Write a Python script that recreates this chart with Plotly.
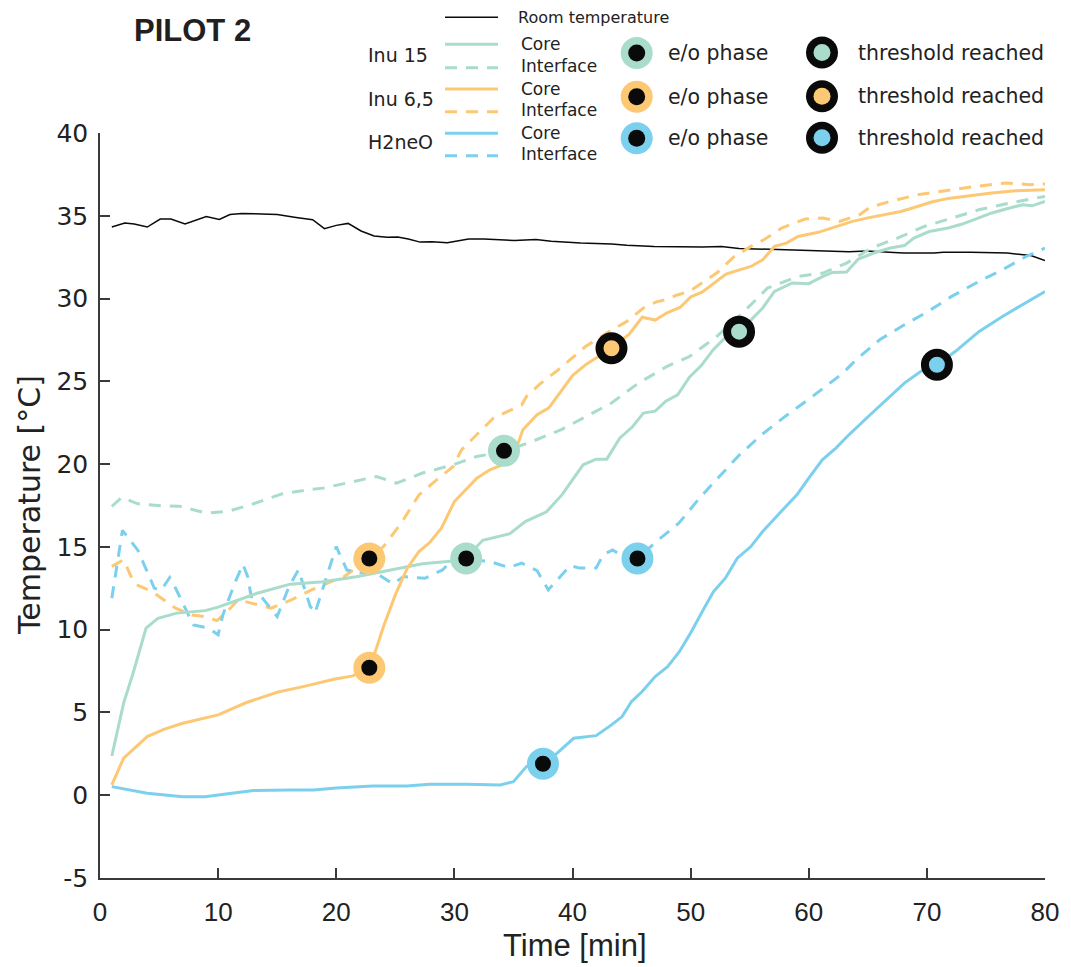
import plotly.graph_objects as go

# the page shows the figure with an 8 px body offset; the figure is sized so that the
# plot area lands on the reference's pixels
OFF = 8
W, H = 1071 - OFF, 967 - OFF
ML, MR, MT, MB = 100 - OFF, 26, 133 - OFF, 89

TEAL = "#A9DCCB"
ORANGE = "#FDC874"
BLUE = "#7BD0EE"
INK = "#0A0A0A"
AX = "#3A3A3A"

# ---------------- data (time in min, temperature in °C) ----------------
room_t = [1, 2.1, 2.9, 4, 5.1, 6, 7.2, 9, 10.1, 11, 12, 15, 16.6, 18, 19, 20, 21, 22.1, 23.2, 24.3,
          25.2, 26.1, 27.1, 28.1, 29.4, 30.4, 31.2, 32.5, 35.1, 36.9, 38.2, 40.7, 43.3, 44.6, 46.9,
          51, 52.6, 54.1, 57.2, 60.3, 63.4, 64.9, 68, 70.6, 71.4, 73.7, 76.8, 78.8, 80]
room_v = [34.32, 34.56, 34.5, 34.32, 34.8, 34.8, 34.5, 34.96, 34.78, 35.08, 35.14, 35.08, 34.9, 34.76,
          34.22, 34.42, 34.54, 34.08, 33.78, 33.7, 33.72, 33.6, 33.41, 33.43, 33.37, 33.5, 33.6, 33.6,
          33.5, 33.56, 33.46, 33.36, 33.3, 33.22, 33.15, 33.12, 33.14, 33.03, 32.97, 32.89, 32.83,
          32.87, 32.75, 32.75, 32.8, 32.8, 32.75, 32.6, 32.3]

inu15_core_t = [1, 2, 2.8, 3.9, 4.9, 6.5, 8.9, 10, 11.6, 13.3, 16.1, 18.9, 21.7, 24.5, 27.3, 29.9, 31,
                32.4, 34.7, 36, 37.8, 39.1, 40.9, 42, 42.9, 44, 45.1, 46, 47, 47.9, 48.9, 49.9, 50.9,
                51.9, 53, 54.1, 55.1, 56.1, 57.1, 58.6, 60, 61.2, 62, 63.2, 64.2, 65.5, 66.9, 68.1,
                68.9, 70.2, 71.8, 73, 74.4, 75.5, 77, 78.1, 78.9, 80]
inu15_core_v = [2.37, 5.56, 7.37, 10.09, 10.69, 11.0, 11.15, 11.36, 11.76, 12.2, 12.75, 12.9, 13.2,
                13.57, 13.98, 14.15, 14.35, 15.4, 15.8, 16.53, 17.12, 18.14, 19.96, 20.3, 20.3, 21.57,
                22.27, 23.08, 23.2, 23.8, 24.19, 25.25, 25.95, 26.9, 27.7, 28.15, 28.7, 29.43, 30.43,
                30.94, 30.9, 31.34, 31.58, 31.6, 32.39, 32.75, 33.05, 33.2, 33.65, 34.05, 34.26, 34.5,
                34.9, 35.17, 35.47, 35.67, 35.6, 35.87]

inu15_intf_t = [1, 1.85, 3.2, 5.2, 6.7, 9, 10.9, 12.8, 15.4, 17.6, 18.9, 21.4, 23.4, 25.1, 27.3, 29.9,
                31.9, 34.2, 36.7, 39.1, 41.5, 43.3, 45.6, 48, 49.9, 52.2, 54.5, 56.5, 59.1, 61.2, 63.2,
                65.3, 67.5, 69.8, 72.1, 74.4, 77, 80]
inu15_intf_v = [17.44, 18.0, 17.6, 17.48, 17.46, 17.04, 17.16, 17.56, 18.2, 18.45, 18.55, 18.95, 19.25,
                18.85, 19.46, 19.96, 20.46, 20.76, 21.4, 22.1, 23.0, 23.69, 24.9, 25.9, 26.5, 27.7,
                29.2, 30.63, 31.34, 31.54, 32.14, 33.05, 33.65, 34.36, 34.86, 35.36, 35.77, 36.17]

inu65_core_t = [1, 2, 4, 5.4, 7, 8.9, 10, 12.4, 15, 17.2, 19.8, 21.4, 22.8, 23.4, 24, 25, 26, 27, 27.9,
                28.9, 30, 31.9, 33, 34.1, 35, 35.8, 37, 38, 38.9, 40, 41.2, 43.3, 44.8, 45.9, 47, 48,
                49.1, 50, 51, 52, 53, 54, 55.1, 56.1, 57.1, 58.1, 59.1, 60.8, 62.3, 63.7, 64.9, 66.3,
                67.8, 69.2, 70.4, 71.8, 73.5, 75.5, 77.5, 80]
inu65_core_v = [0.62, 2.24, 3.54, 3.98, 4.35, 4.65, 4.85, 5.6, 6.22, 6.56, 7.0, 7.21, 7.67, 8.88, 10.19,
                12.1, 13.7, 14.72, 15.26, 16.13, 17.74, 19.15, 19.66, 19.96, 20.46, 22.07, 22.98, 23.4,
                24.29, 25.35, 26.05, 27.0, 27.85, 28.87, 28.7, 29.14, 29.46, 30.1, 30.4, 30.94, 31.48,
                31.7, 31.94, 32.34, 33.15, 33.35, 33.75, 34.0, 34.36, 34.66, 34.86, 35.06, 35.26,
                35.56, 35.83, 36.05, 36.21, 36.37, 36.51, 36.57]

inu65_intf_t = [1, 2, 2.7, 3.1, 4.4, 5.4, 6.4, 7.8, 8.9, 9.9, 10.9, 11.7, 12.8, 14.5, 16.2, 17.9, 19.9,
                20.6, 22.8, 24, 25.5, 27, 28.5, 29.9, 30.6, 31.9, 33.3, 34.4, 35.7, 36.1, 37.25, 38.8,
                39.8, 41.1, 42.9, 44.6, 46, 47.1, 48.1, 48.8, 49.9, 52.2, 53.7, 55.1, 56.2, 57.7, 59.7,
                61.2, 62.6, 64.3, 65.2, 66.9, 69.2, 71.8, 74.1, 76.7, 78.7, 80]
inu65_intf_v = [13.82, 14.22, 13.11, 12.71, 12.3, 11.8, 11.3, 10.89, 10.79, 10.55, 11.2, 11.8, 11.6,
                11.3, 11.8, 12.4, 13.0, 13.17, 14.32, 15.02, 16.43, 18.14, 19.05, 19.86, 20.86, 21.77,
                22.78, 23.14, 23.58, 24.08, 24.84, 25.7, 26.3, 27.1, 27.92, 28.62, 29.43, 29.8, 29.97,
                30.2, 30.43, 31.54, 32.54, 33.15, 33.55, 34.26, 34.8, 34.86, 34.66, 35.06, 35.52,
                35.87, 36.27, 36.53, 36.77, 36.98, 36.88, 36.92]

h2neo_core_t = [1, 4, 7, 8.9, 10, 13, 16.1, 18.1, 20, 23.1, 26, 27.9, 31, 33.9, 35, 36.1, 37.5, 38.7,
                40.1, 41.5, 42, 43.3, 44.2, 45, 45.9, 47, 48.05, 49.06, 50.07, 51.07, 51.94, 52.94,
                53.95, 55.1, 56.1, 57.8, 59, 60, 61.15, 62.3, 63.4, 65.2, 66.6, 68.1, 69.5, 70.85,
                72.4, 74.4, 76.4, 78.1, 80]
h2neo_core_v = [0.52, 0.12, -0.09, -0.09, 0.02, 0.28, 0.32, 0.32, 0.44, 0.56, 0.56, 0.66, 0.66, 0.62,
                0.82, 1.73, 1.87, 2.54, 3.44, 3.54, 3.6, 4.25, 4.75, 5.66, 6.26, 7.17, 7.77, 8.68, 9.89,
                11.2, 12.3, 13.11, 14.32, 15.02, 15.93, 17.24, 18.14, 19.15, 20.26, 20.97, 21.77,
                22.98, 23.9, 24.89, 25.6, 26.0, 26.8, 28.0, 28.92, 29.63, 30.43]

h2neo_intf_t = [1, 1.9, 3.2, 4.6, 5.2, 5.9, 6.4, 7.9, 9.2, 10, 10.4, 11.4, 12.1, 12.5, 12.8, 13.7, 15,
                16, 16.8, 17.8, 18.2, 19.1, 20, 20.9, 22.4, 23.4, 24.8, 25.7, 27.5, 29, 29.9, 33, 34.6,
                35.7, 37, 37.95, 39.8, 40.6, 42, 42.6, 43.4, 44.2, 45.5, 47.2, 49, 50.8, 52.2, 54, 56,
                58, 60.3, 62, 62.9, 64, 66, 68.1, 70.1, 72.1, 74.4, 76.4, 78.4, 80]
h2neo_intf_v = [11.9, 16.0, 14.8, 12.5, 12.4, 13.15, 12.5, 10.29, 10.09, 9.69, 10.89, 12.8, 13.95,
                13.21, 12.0, 11.95, 10.79, 12.6, 13.61, 11.4, 11.0, 13.0, 15.02, 13.6, 13.41, 13.41,
                12.76, 13.21, 13.1, 13.61, 14.3, 14.12, 13.75, 14.02, 13.56, 12.4, 13.87, 13.72,
                13.72, 14.52, 14.82, 14.45, 14.32, 15.38, 16.43, 17.99, 19.05, 20.46, 21.77, 22.88,
                24.08, 24.99, 25.5, 26.3, 27.51, 28.42, 29.22, 30.13, 31.03, 31.74, 32.54, 33.05]

# e/o phase events and threshold-reached events
eo_t = [31.0, 34.2, 22.8, 22.8, 37.5, 45.5]
eo_v = [14.3, 20.8, 7.7, 14.3, 1.9, 14.3]
eo_series = ["Inu 15", "Inu 15", "Inu 6,5", "Inu 6,5", "H2neO", "H2neO"]
th_t = [54.1, 43.3, 70.85]
th_v = [28.0, 27.0, 26.0]
th_series = ["Inu 15", "Inu 6,5", "H2neO"]

groups = ["Inu 15", "Inu 6,5", "H2neO"]
colors = {"Inu 15": TEAL, "Inu 6,5": ORANGE, "H2neO": BLUE}

x_ticks = [0, 10, 20, 30, 40, 50, 60, 70, 80]
y_ticks = [-5, 0, 5, 10, 15, 20, 25, 30, 35, 40]
y_tick_labels = ["-5", "0", "5", "10", "15", "20", "25", "30", "35", "40"]

# ---------------- figure ----------------
fig = go.Figure()
DASH = "12px,9px"


def add_line(t, v, color, dash="solid", width=3.0):
    fig.add_trace(go.Scatter(x=t, y=v, mode="lines", showlegend=False, hoverinfo="skip",
                             line=dict(color=color, width=width, dash=dash)))


add_line(room_t, room_v, INK, width=1.5)
add_line(inu15_intf_t, inu15_intf_v, TEAL, DASH)
add_line(inu65_intf_t, inu65_intf_v, ORANGE, DASH)
add_line(h2neo_intf_t, h2neo_intf_v, BLUE, DASH)
add_line(inu15_core_t, inu15_core_v, TEAL)
add_line(inu65_core_t, inu65_core_v, ORANGE)
add_line(h2neo_core_t, h2neo_core_v, BLUE)

fig.add_trace(go.Scatter(x=eo_t, y=eo_v, mode="markers", showlegend=False, hoverinfo="skip",
                         marker=dict(size=24, color=INK,
                                     line=dict(color=[colors[s] for s in eo_series], width=8))))
fig.add_trace(go.Scatter(x=th_t, y=th_v, mode="markers", showlegend=False, hoverinfo="skip",
                         marker=dict(size=24, color=[colors[s] for s in th_series],
                                     line=dict(color=INK, width=8))))

# ---------------- legend / labels placed by screen pixel ----------------
PW, PH = W - ML - MR, H - MT - MB


def xp(px):
    return (px - OFF - ML) / PW


def yp(py):
    return (H - MB - (py - OFF)) / PH


shapes, annos = [], []


def hline(x0, x1, y, color, width, dash="solid"):
    shapes.append(dict(type="line", xref="paper", yref="paper", x0=xp(x0), x1=xp(x1),
                       y0=yp(y), y1=yp(y), line=dict(color=color, width=width, dash=dash)))


def disc(x, y, r, color):
    shapes.append(dict(type="circle", xref="paper", yref="paper", xsizemode="pixel",
                       ysizemode="pixel", xanchor=xp(x), yanchor=yp(y), x0=-r, x1=r, y0=-r, y1=r,
                       fillcolor=color, line=dict(width=0)))


def text(x, y, s, size, family="DejaVu Sans", xanchor="left", color="#222", angle=0):
    annos.append(dict(x=xp(x), y=yp(y), xref="paper", yref="paper", text=s, showarrow=False,
                      xanchor=xanchor, yanchor="middle", textangle=angle,
                      font=dict(family=family, size=size, color=color)))


hline(445, 498, 17.3, INK, 1.5)
text(516, 18, "Room temperature", 16)

rows = [(44.3, 67.7, 54.5, 53.0), (89.0, 111.7, 99.0, 96.7), (133.3, 155.7, 141.7, 138.3)]
for g, (yc, yi, yl, ym) in zip(groups, rows):
    c = colors[g]
    hline(445, 498, yc, c, 3)
    hline(445, 498, yi, c, 3, DASH)
    text(366, yl, g, 19)
    text(519, yc, "Core", 17)
    text(519, yi - 2, "Interface", 17)
    disc(636.7, ym, 16, c)
    disc(636.7, ym, 8.5, INK)
    text(666, ym, "e/o phase", 20.5)
    disc(822, ym - 0.5, 16, INK)
    disc(822, ym - 0.5, 8.5, c)
    text(856, ym - 0.5, "threshold reached", 20.5)

text(192.5, 30, "<b>PILOT 2</b>", 31, family="Liberation Sans", xanchor="center", color="#231F20")
text(29, 505, "Temperature [°C]", 30, xanchor="center", angle=-90)
text(575, 946, "Time [min]", 31, family="Liberation Sans", xanchor="center")

fig.update_layout(
    width=W, height=H, margin=dict(l=ML, r=MR, t=MT, b=MB, pad=0),
    paper_bgcolor="white", plot_bgcolor="white", showlegend=False,
    shapes=shapes, annotations=annos,
    xaxis=dict(range=[0, 80], tickvals=x_ticks, ticks="inside", ticklen=10, tickwidth=1.5,
               tickcolor=AX, showline=True, linecolor=AX, linewidth=1.5, showgrid=False,
               zeroline=False, ticklabelstandoff=10,
               tickfont=dict(family="Liberation Sans", size=26, color="#222")),
    yaxis=dict(range=[-5, 40], tickvals=y_ticks, ticktext=y_tick_labels, ticks="inside",
               ticklen=10, tickwidth=1.5, tickcolor=AX, showline=True, linecolor=AX,
               linewidth=1.5, showgrid=False, zeroline=False, ticklabelstandoff=5,
               tickfont=dict(family="DejaVu Sans", size=25, color="#222")),
)

fig.write_html("out.html")
